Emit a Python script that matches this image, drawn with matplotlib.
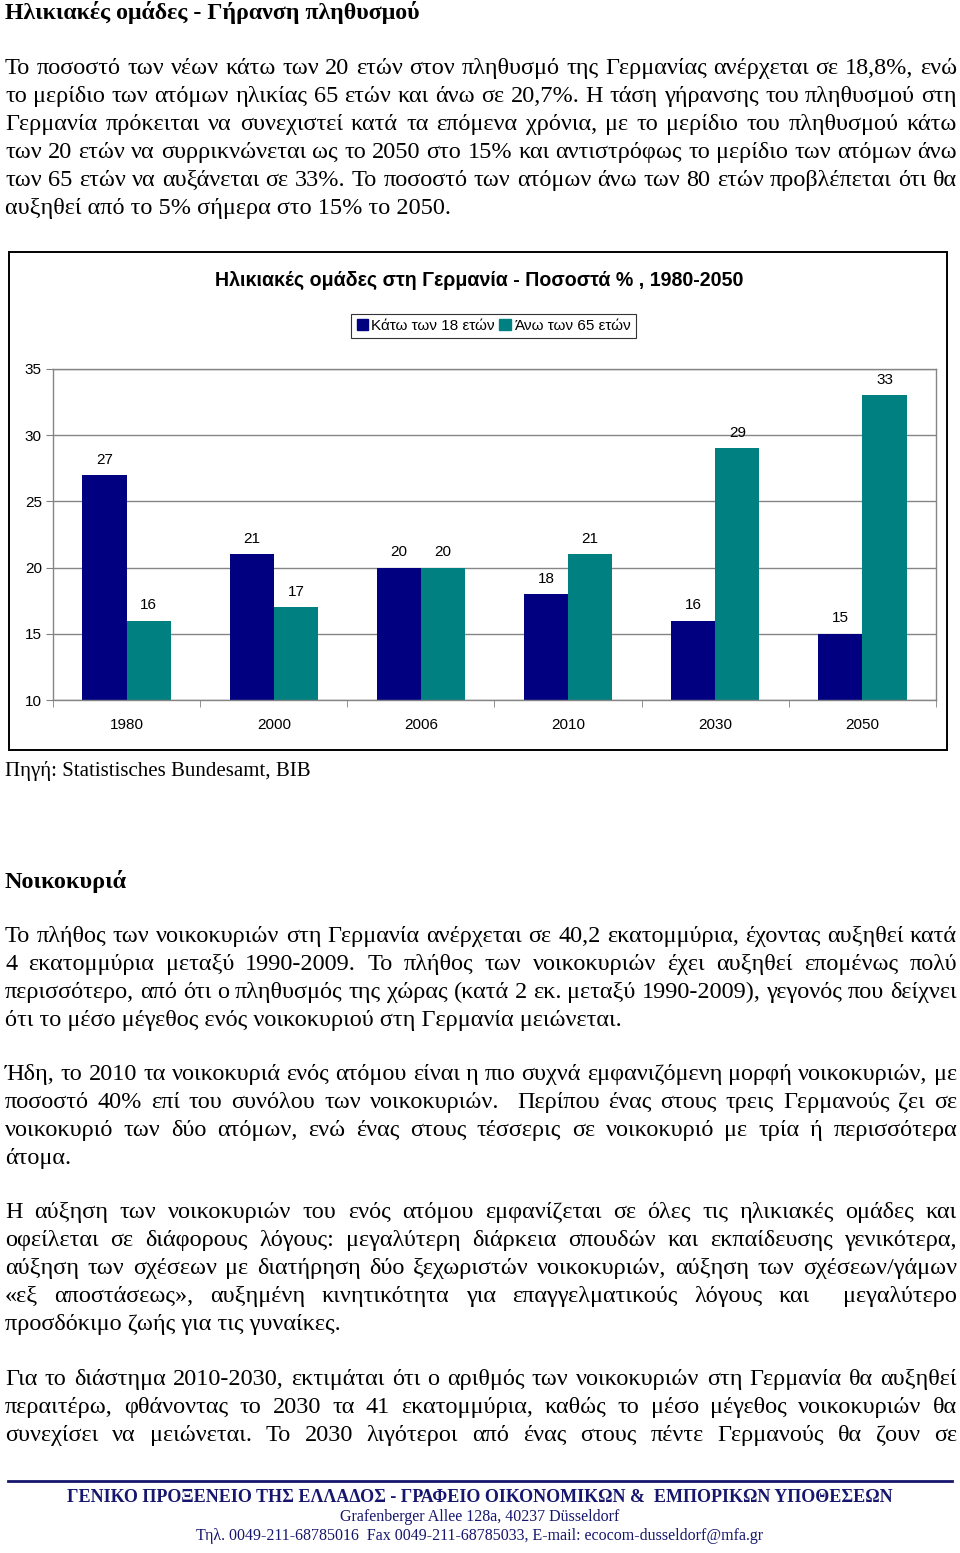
import matplotlib
matplotlib.use("Agg")
import matplotlib.pyplot as plt
from matplotlib.patches import Rectangle, Patch
from matplotlib.lines import Line2D
import numpy as np

W, H = 960, 1553

# chart data
years = ["1980", "2000", "2006", "2010", "2030", "2050"]
under18 = [27, 21, 20, 18, 16, 15]
over65 = [16, 17, 20, 21, 29, 33]
series_names = ["Κάτω των 18 ετών", "Άνω των 65 ετών"]
colors = ["#000080", "#008080"]
chart_title = "Ηλικιακές ομάδες στη Γερμανία - Ποσοστά % , 1980-2050"

# page text
heading1 = "Ηλικιακές ομάδες - Γήρανση πληθυσμού"
para1 = [
    "Το ποσοστό των νέων κάτω των 20 ετών στον πληθυσμό της Γερμανίας ανέρχεται σε 18,8%, ενώ",
    "το μερίδιο των ατόμων ηλικίας 65 ετών και άνω σε 20,7%. Η τάση γήρανσης του πληθυσμού στη",
    "Γερμανία πρόκειται να συνεχιστεί κατά τα επόμενα χρόνια, με το μερίδιο του πληθυσμού κάτω",
    "των 20 ετών να συρρικνώνεται ως το 2050 στο 15% και αντιστρόφως το μερίδιο των ατόμων άνω",
    "των 65 ετών να αυξάνεται σε 33%. Το ποσοστό των ατόμων άνω των 80 ετών προβλέπεται ότι θα",
    "αυξηθεί από το 5% σήμερα στο 15% το 2050.",
]
source = "Πηγή: Statistisches Bundesamt, BIB"
heading2 = "Νοικοκυριά"
para2 = [
    "Το πλήθος των νοικοκυριών στη Γερμανία ανέρχεται σε 40,2 εκατομμύρια, έχοντας αυξηθεί κατά",
    "4 εκατομμύρια μεταξύ 1990-2009. Το πλήθος των νοικοκυριών έχει αυξηθεί επομένως πολύ",
    "περισσότερο, από ότι ο πληθυσμός της χώρας (κατά 2 εκ. μεταξύ 1990-2009), γεγονός που δείχνει",
    "ότι το μέσο μέγεθος ενός νοικοκυριού στη Γερμανία μειώνεται.",
]
para3 = [
    "Ήδη, το 2010 τα νοικοκυριά ενός ατόμου είναι η πιο συχνά εμφανιζόμενη μορφή νοικοκυριών, με",
    "ποσοστό 40% επί του συνόλου των νοικοκυριών.  Περίπου ένας στους τρεις Γερμανούς ζει σε",
    "νοικοκυριό των δύο ατόμων, ενώ ένας στους τέσσερις σε νοικοκυριό με τρία ή περισσότερα",
    "άτομα.",
]
para4 = [
    "Η αύξηση των νοικοκυριών του ενός ατόμου εμφανίζεται σε όλες τις ηλικιακές ομάδες και",
    "οφείλεται σε διάφορους λόγους: μεγαλύτερη διάρκεια σπουδών και εκπαίδευσης γενικότερα,",
    "αύξηση των σχέσεων με διατήρηση δύο ξεχωριστών νοικοκυριών, αύξηση των σχέσεων/γάμων",
    "«εξ αποστάσεως», αυξημένη κινητικότητα για επαγγελματικούς λόγους και  μεγαλύτερο",
    "προσδόκιμο ζωής για τις γυναίκες.",
]
para5 = [
    "Για το διάστημα 2010-2030, εκτιμάται ότι ο αριθμός των νοικοκυριών στη Γερμανία θα αυξηθεί",
    "περαιτέρω, φθάνοντας το 2030 τα 41 εκατομμύρια, καθώς το μέσο μέγεθος νοικοκυριών θα",
    "συνεχίσει να μειώνεται. Το 2030 λιγότεροι από ένας στους πέντε Γερμανούς θα ζουν σε",
]
footer = [
    "ΓΕΝΙΚΟ ΠΡΟΞΕΝΕΙΟ ΤΗΣ ΕΛΛΑΔΟΣ - ΓΡΑΦΕΙΟ ΟΙΚΟΝΟΜΙΚΩΝ &  ΕΜΠΟΡΙΚΩΝ ΥΠΟΘΕΣΕΩΝ",
    "Grafenberger Allee 128a, 40237 Düsseldorf",
    "Τηλ. 0049-211-68785016  Fax 0049-211-68785033, E-mail: ecocom-dusseldorf@mfa.gr",
]

serif = "Liberation Serif"
sans = "Liberation Sans"
BODY = 17.5
navy = "#16166e"

fig = plt.figure(figsize=(W / 100, H / 100), dpi=100)
renderer = fig.canvas.get_renderer()


def fx(px):
    return px / W


def fy(py):
    return 1 - py / H


def text_width(s, **kw):
    t = fig.text(0, 0, s, **kw)
    w = t.get_window_extent(renderer).width
    t.remove()
    return w


def paragraph(lines, base0, justify_last=False, left=5, right=957, step=28):
    for i, line in enumerate(lines):
        y = fy(base0 + i * step)
        if i == len(lines) - 1 and not justify_last:
            fig.text(fx(left), y, line, fontsize=BODY, family=serif, va="baseline")
            continue
        words = line.split(" ")
        ws = [text_width(w, fontsize=BODY, family=serif) if w else 0 for w in words]
        gap = (right - left - sum(ws)) / (len(words) - 1)
        x = left
        for w, wd in zip(words, ws):
            if w:
                fig.text(fx(x), y, w, fontsize=BODY, family=serif, va="baseline")
            x += wd + gap


# headings and body text
fig.text(fx(5), fy(19), heading1, fontsize=BODY - 0.3, family=serif, weight="bold", va="baseline")
paragraph(para1, 74)
fig.text(fx(5), fy(776), source, fontsize=15, family=serif, va="baseline")
fig.text(fx(5), fy(888), heading2, fontsize=BODY, family=serif, weight="bold", va="baseline")
paragraph(para2, 942)
paragraph(para3, 1080)
paragraph(para4, 1218)
paragraph(para5, 1385, justify_last=True)

# chart frame
fig.add_artist(Rectangle((fx(9), fy(750)), fx(947) - fx(9), fy(252) - fy(750),
                         transform=fig.transFigure, fill=False, ec="black", lw=1.4))
fig.text(fx(479), fy(280), chart_title, ha="center", va="center",
         fontsize=14.1, family=sans, weight="bold")

ax = fig.add_axes([fx(53), fy(700), fx(936) - fx(53), fy(369) - fy(700)])
x = np.arange(len(years))
bw = 0.3
b1 = ax.bar(x - bw / 2, under18, bw, color=colors[0], label=series_names[0])
b2 = ax.bar(x + bw / 2, over65, bw, color=colors[1], label=series_names[1])
ax.bar_label(b1, padding=6, fontsize=11, family=sans)
ax.bar_label(b2, padding=6, fontsize=11, family=sans)

ax.set_ylim(10, 35)
ax.set_xlim(-0.5, 5.5)
ax.set_yticks(range(10, 36, 5))
ax.set_xticks(x, years)
ax.set_xticks(np.arange(-0.5, 6, 1), minor=True)
ax.yaxis.grid(True, color="#858585", lw=1)
ax.set_axisbelow(True)
for s in ax.spines.values():
    s.set_color("#858585")
    s.set_linewidth(1)
ax.tick_params(axis="y", length=5, color="#808080", labelsize=11, pad=3)
ax.tick_params(axis="x", which="major", length=0, labelsize=11, pad=13)
ax.tick_params(axis="x", which="minor", length=5, color="#808080")
for lab in ax.get_xticklabels() + ax.get_yticklabels():
    lab.set_family(sans)

handles = [Patch(color=c, label=n) for c, n in zip(colors, series_names)]
leg = fig.legend(handles=handles, loc="center", bbox_to_anchor=(fx(493.5), fy(326)),
                 ncol=2, frameon=True, fancybox=False, edgecolor="black",
                 handlelength=0.75, handleheight=0.75, handletextpad=0.2,
                 columnspacing=0.3, borderpad=0.35, borderaxespad=0,
                 prop={"family": sans, "size": 11})
leg.get_frame().set_linewidth(0.8)

# footer
fig.add_artist(Line2D([fx(8), fx(952)], [fy(1481), fy(1481)], color=navy, lw=2,
                      transform=fig.transFigure))
fig.text(fx(480), fy(1498), footer[0], ha="center", va="center", fontsize=13,
         family=serif, weight="bold", color=navy)
fig.text(fx(480), fy(1517), footer[1], ha="center", va="center", fontsize=11.5,
         family=serif, color=navy)
fig.text(fx(480), fy(1536), footer[2], ha="center", va="center", fontsize=11.5,
         family=serif, color=navy)

fig.savefig("out.png", dpi=100)
